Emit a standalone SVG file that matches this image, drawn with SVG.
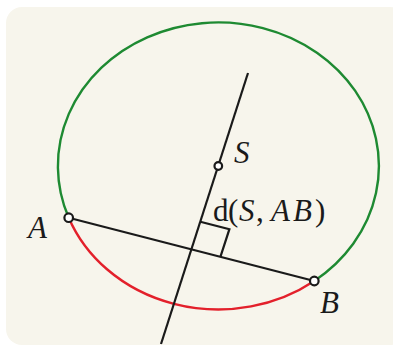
<svg xmlns="http://www.w3.org/2000/svg" width="393" height="348" viewBox="0 0 393 348">
<style>
.bg{fill:#f7f5ec;stroke:none}
.arc{fill:none;stroke-width:2.4}
.green{stroke:#1e8a32}
.red{stroke:#e3202b}
.ln{fill:none;stroke:#1a1a1a;stroke-width:2.2;stroke-linecap:butt}
.pt{fill:#ffffff;stroke:#1a1a1a;stroke-width:2.2}
.lbl{font-family:"Liberation Serif","Times New Roman",serif;font-size:31px;fill:#1a1a1a}
.it{font-style:italic}
</style>
<rect class="bg" x="6" y="7" width="400" height="338" rx="16" ry="16"/>
<g id="circle">
<path class="arc green" d="M68.7,217.7 A160.5,143.5 0 1 1 314.3,281"/>
<path class="arc red" d="M68.7,217.7 A160.5,143.5 0 0 0 314.3,281"/>
</g>
<g id="connectors">
<line class="ln" x1="248" y1="73" x2="161" y2="344"/>
<line class="ln" x1="68.7" y1="217.7" x2="314.3" y2="281"/>
<path class="ln" d="M200.3,221.7 L229.4,229.2 L220.4,256.8" stroke-width="2"/>
</g>
<g id="A">
<circle class="pt" cx="68.7" cy="217.7" r="4.3"/>
<text class="lbl it" x="28" y="238">A</text>
</g>
<g id="B">
<circle class="pt" cx="314.3" cy="281" r="4.3"/>
<text class="lbl it" x="320" y="313">B</text>
</g>
<g id="S">
<circle class="pt" cx="218.3" cy="166" r="3.8"/>
<text class="lbl it" x="234" y="163">S</text>
</g>
<g id="distance">
<text class="lbl" y="221"><tspan x="213">d</tspan><tspan x="228">(</tspan><tspan class="it" x="239">S</tspan><tspan x="256">,</tspan><tspan class="it" x="271">A</tspan><tspan class="it" x="293">B</tspan><tspan x="315">)</tspan></text>
</g>
</svg>
